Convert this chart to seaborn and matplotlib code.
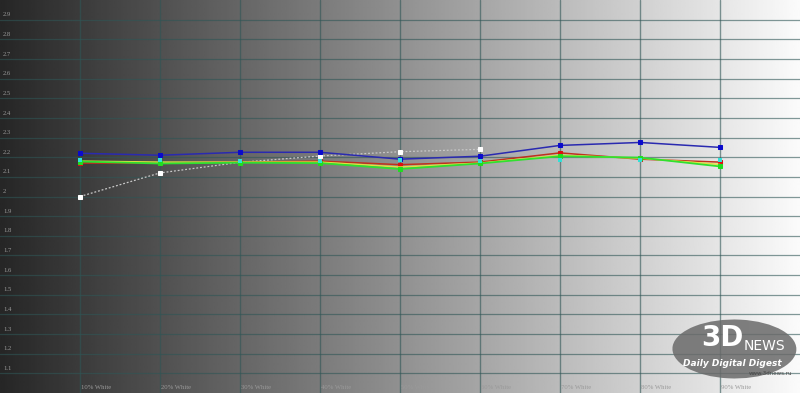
import numpy as np
import pandas as pd
import matplotlib
matplotlib.use("Agg")
import matplotlib.pyplot as plt
import seaborn as sns
from matplotlib.patches import Ellipse

# ---- data ----
levels = ["10% White", "20% White", "30% White", "40% White", "50% White",
          "60% White", "70% White", "80% White", "90% White"]
x_pos = [1, 2, 3, 4, 5, 6, 7, 8, 9]
blue = [2.22, 2.21, 2.225, 2.225, 2.19, 2.205, 2.26, 2.275, 2.25]
red = [2.17, 2.17, 2.175, 2.18, 2.162, 2.175, 2.222, 2.19, 2.175]
yellow = [2.18, 2.175, 2.175, 2.175, 2.15, 2.17, 2.21, 2.195, 2.163]
green = [2.178, 2.168, 2.172, 2.17, 2.14, 2.168, 2.205, 2.198, 2.153]
cyan = [2.186, 2.186, 2.18, 2.18, 2.186, 2.18, 2.186, 2.186, 2.186]
white = [2.0, 2.12, 2.174, 2.206, 2.228, 2.24, np.nan, np.nan, np.nan]
y_ticks = [1.1, 1.2, 1.3, 1.4, 1.5, 1.6, 1.7, 1.8, 1.9, 2.0,
           2.1, 2.2, 2.3, 2.4, 2.5, 2.6, 2.7, 2.8, 2.9]
y_tick_labels = ["1.1", "1.2", "1.3", "1.4", "1.5", "1.6", "1.7", "1.8", "1.9", "2",
                 "2.1", "2.2", "2.3", "2.4", "2.5", "2.6", "2.7", "2.8", "2.9"]

df = pd.DataFrame({"x": x_pos, "level": levels, "blue": blue, "red": red,
                   "yellow": yellow, "green": green, "cyan": cyan, "white": white})

sns.set_theme(style="white")
plt.rcParams["font.family"] = ["Liberation Serif", "DejaVu Serif"]

fig = plt.figure(figsize=(8, 3.93), dpi=100)
ax = fig.add_axes([0, 0, 1, 1])
ax.set_xlim(0, 10)
ax.set_ylim(1.0, 3.0)

# gradient background
grad = np.linspace(0, 1, 400).reshape(1, -1)
ax.imshow(grad, extent=[0, 10, 1.0, 3.0], aspect="auto", cmap="gray",
          vmin=-0.18, vmax=1.02, zorder=0, interpolation="bilinear")

# grid
grid_c = "#2f5656"
for yv in y_ticks:
    ax.axhline(yv, color=grid_c, lw=0.9, alpha=0.6, zorder=1)
for xv in x_pos:
    ax.axvline(xv, color=grid_c, lw=1.0, alpha=0.6, zorder=1)

# series
ms = 3.2
sns.lineplot(data=df, x="x", y="white", ax=ax, color="#c8c8c8", lw=0.9,
             linestyle=(0, (1.5, 1.5)), marker="s", markersize=ms,
             markerfacecolor="white", markeredgecolor="white", zorder=3)
sns.lineplot(data=df, x="x", y="blue", ax=ax, color="#2a2ab0", lw=1.1,
             marker="s", markersize=ms, markerfacecolor="#0a0acc",
             markeredgecolor="#0a0acc", zorder=4)
sns.lineplot(data=df, x="x", y="red", ax=ax, color="#c0301e", lw=1.1,
             marker="s", markersize=ms, markerfacecolor="#dd1010",
             markeredgecolor="#dd1010", zorder=5)
sns.lineplot(data=df, x="x", y="yellow", ax=ax, color="#e2e040", lw=1.1,
             zorder=5)
sns.lineplot(data=df, x="x", y="green", ax=ax, color="#30e030", lw=1.3,
             marker="s", markersize=ms, markerfacecolor="#20dd20",
             markeredgecolor="#20dd20", zorder=6)
sns.scatterplot(data=df, x="x", y="cyan", ax=ax, color="#30e0d8", marker="s",
                s=12, linewidth=0, zorder=7)

# tick labels as inner text
txt_c = "#9a9a9a"
for yv, lab in zip(y_ticks, y_tick_labels):
    ax.text(0.04, yv + 0.012, lab, color=txt_c, fontsize=4.8, ha="left",
            va="bottom", zorder=8)
for xv, lab in zip(x_pos, levels):
    ax.text(xv + 0.01, 1.015, lab, color=txt_c, fontsize=4.8, ha="left",
            va="bottom", zorder=8)

# watermark
ax.add_patch(Ellipse((0.918, 0.112), 0.155, 0.15, angle=-6,
                     transform=ax.transAxes, facecolor="#6a6a6a",
                     alpha=0.85, edgecolor="none", zorder=8))
ax.text(0.93, 0.14, "3D", transform=ax.transAxes, fontsize=20,
        fontweight="bold", color="white", ha="right", va="center",
        family="DejaVu Sans", zorder=9)
ax.text(0.93, 0.12, "NEWS", transform=ax.transAxes, fontsize=10,
        color="white", ha="left", va="center", family="DejaVu Sans", zorder=9)
ax.text(0.915, 0.075, "Daily Digital Digest", transform=ax.transAxes,
        fontsize=6.5, color="white", style="italic", fontweight="bold",
        ha="center", va="center", family="DejaVu Sans", zorder=9)
ax.text(0.99, 0.05, "www.3dnews.ru", transform=ax.transAxes, fontsize=4,
        color="#444444", ha="right", va="center", family="DejaVu Sans", zorder=9)

ax.set_xlabel("")
ax.set_ylabel("")
ax.set_xticks([])
ax.set_yticks([])
for s in ax.spines.values():
    s.set_visible(False)
if ax.get_legend():
    ax.get_legend().remove()

fig.savefig("out.png", dpi=100)
